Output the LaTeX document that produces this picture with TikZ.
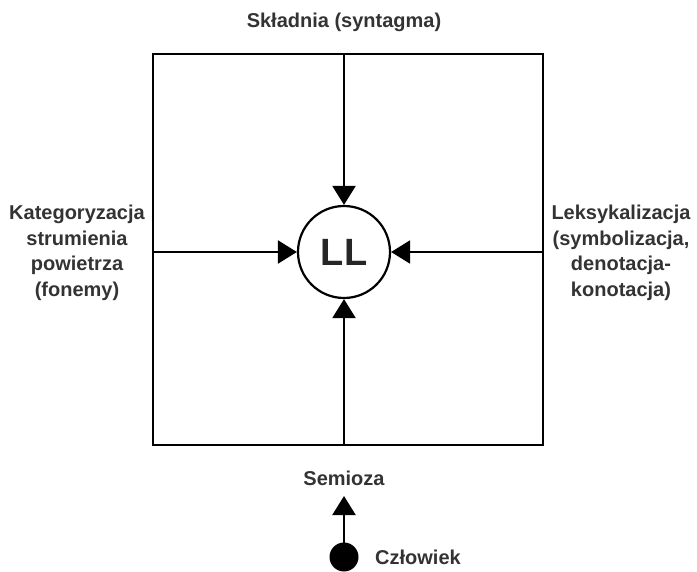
\documentclass[tikz,border=0pt]{standalone}
\usepackage{fontspec}
\setmainfont{Liberation Sans}
\usetikzlibrary{arrows.meta}
\begin{document}
\begin{tikzpicture}[x=1pt,y=-1pt,
  lbl/.style={font=\bfseries\fontsize{20}{25.5}\selectfont, text=black!80, align=center, inner sep=0pt},
  conn/.style={line width=2.2pt, -{Triangle[length=19pt,width=23pt]}},
  frame/.style={line width=2.2pt}]
\useasboundingbox (0,0) rectangle (697,572);
\draw[frame] (153,54) rectangle (543,445);
\coordinate (T) at (344,54);
\coordinate (B) at (344,445);
\coordinate (L) at (153,252);
\coordinate (R) at (543,252);
\node[circle, draw, line width=2.2pt, minimum size=92pt, inner sep=0pt,
      font=\bfseries\fontsize{38}{38}\selectfont, text=black!85] (LL) at (344,252) {LL};
\draw[conn] (T) -- (LL.north);
\draw[conn] (B) -- (LL.south);
\draw[conn] (L) -- (LL.west);
\draw[conn] (R) -- (LL.east);
\node[lbl] (top) at (344,22) {Składnia (syntagma)};
\node[lbl] (left) at (77,253) {Kategoryzacja\\strumienia\\powietrza\\(fonemy)};
\node[lbl] (right) at (621,253) {Leksykalizacja\\(symbolizacja,\\denotacja-\\konotacja)};
\node[lbl] (sem) at (344,478) {Semioza};
\node[circle, fill=black, minimum size=29pt, inner sep=0pt] (dot) at (344,557) {};
\node[lbl] (czl) at (418,557) {Człowiek};
\draw[conn] (dot.center) -- (344,496);
\end{tikzpicture}
\end{document}
